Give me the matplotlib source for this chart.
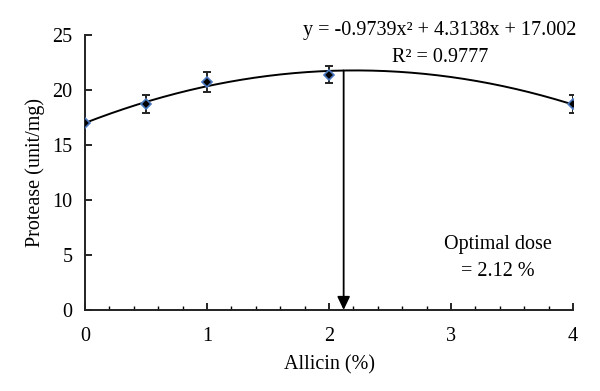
import numpy as np
import matplotlib
matplotlib.use("Agg")
import matplotlib.pyplot as plt
from matplotlib.ticker import MultipleLocator

plt.rcParams['font.family'] = ['Liberation Serif', 'DejaVu Serif']

allicin = [0, 0.5, 1, 2, 4]
protease = [17.0, 18.7, 20.7, 21.4, 18.7]
errors = [0.0, 0.8, 0.9, 0.8, 0.8]
coef = [-0.9739, 4.3138, 17.002]
optimal = 2.12

fig = plt.figure(figsize=(6, 3.91), dpi=100)
ax = fig.add_axes([0.1417, 0.2072, 0.8133, 0.7033])

xs = np.linspace(0, 4, 300)
ax.plot(xs, np.polyval(coef, xs), color='black', lw=1.4, zorder=2)
ax.errorbar(allicin, protease, yerr=errors, fmt='none', ecolor='#222222',
            elinewidth=1.4, capsize=3.2, capthick=1.4, zorder=3)
ax.plot(allicin, protease, linestyle='none', marker='D', markersize=5.5,
        markerfacecolor='black', markeredgecolor='#4a78c0', markeredgewidth=1.2, zorder=4)

ytop = np.polyval(coef, optimal)
ax.annotate('', xy=(optimal, 0), xytext=(optimal, ytop),
            arrowprops=dict(arrowstyle='-|>,head_length=0.8,head_width=0.38',
                            color='black', lw=1.3, shrinkA=0, shrinkB=0), zorder=5)

ax.set_xlim(0, 4)
ax.set_ylim(0, 25)
ax.xaxis.set_major_locator(MultipleLocator(1))
ax.xaxis.set_minor_locator(MultipleLocator(0.2))
ax.yaxis.set_major_locator(MultipleLocator(5))
ax.tick_params(axis='both', which='major', direction='in', length=5, width=1.2,
               labelsize=14.5)
ax.tick_params(axis='x', which='major', pad=12)
ax.tick_params(axis='x', which='minor', direction='in', length=3, width=1.0)
ax.tick_params(axis='y', which='major', pad=9)
for s in ['top', 'right']:
    ax.spines[s].set_visible(False)
for s in ['left', 'bottom']:
    ax.spines[s].set_linewidth(1.4)
    ax.spines[s].set_color('#222222')

ax.set_xlabel('Allicin (%)', fontsize=14.5, labelpad=7)
ax.set_ylabel('Protease (unit/mg)', fontsize=14.5, labelpad=5)

fig.text(440/600, 1 - 31/391, 'y = -0.9739x\u00b2 + 4.3138x + 17.002', ha='center', va='center', fontsize=14.5)
fig.text(440/600, 1 - 57/391, 'R\u00b2 = 0.9777', ha='center', va='center', fontsize=14.5)
fig.text(498/600, 1 - 244/391, 'Optimal dose', ha='center', va='center', fontsize=14.5)
fig.text(498/600, 1 - 271/391, '= 2.12 %', ha='center', va='center', fontsize=14.5)

fig.savefig('out.png', dpi=100)
